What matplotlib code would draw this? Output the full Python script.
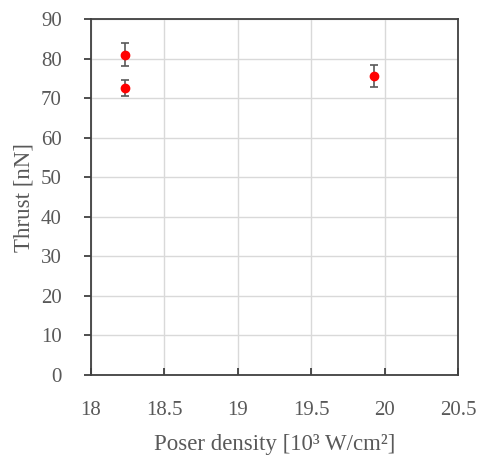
import matplotlib
matplotlib.use("Agg")
import matplotlib.pyplot as plt

# data
power_density = [18.23, 18.23, 19.93]
thrust = [81.0, 72.5, 75.6]
thrust_err = [2.9, 2.0, 2.7]

xticks = [18, 18.5, 19, 19.5, 20, 20.5]
xtick_labels = ['18', '18.5', '19', '19.5', '20', '20.5']
yticks = [0, 10, 20, 30, 40, 50, 60, 70, 80, 90]

plt.rcParams['font.family'] = ['Liberation Serif', 'DejaVu Serif']
text_col = '#595959'

fig = plt.figure(figsize=(4.8, 4.57), dpi=100)
ax = fig.add_axes([91/480, 1 - 375/457, 367/480, 356/457])

ax.errorbar(power_density, thrust, yerr=thrust_err, fmt='o', color='red',
            markersize=6, ecolor='#595959', elinewidth=1.2, capsize=3,
            capthick=1.2, zorder=3)

ax.set_xlim(18, 20.5)
ax.set_ylim(0, 90)
ax.set_xticks(xticks)
ax.set_xticklabels(xtick_labels)
ax.set_yticks(yticks)
ax.grid(True, color='#d9d9d9', linewidth=1)
ax.set_axisbelow(True)

for s in ax.spines.values():
    s.set_color('#404040')
    s.set_linewidth(1.3)

ax.tick_params(axis='x', direction='in', length=5, width=1.3, color='#404040',
               labelsize=15, labelcolor=text_col, pad=19)
ax.tick_params(axis='y', direction='out', length=5, width=1.3, color='#404040',
               labelsize=15, labelcolor=text_col, pad=16)

ax.set_xlabel('Poser density [10³ W/cm²]', fontsize=16.5, color=text_col, labelpad=10)
ax.set_ylabel('Thrust [nN]', fontsize=16.5, color=text_col, labelpad=5)

fig.savefig('out.png', dpi=100)
